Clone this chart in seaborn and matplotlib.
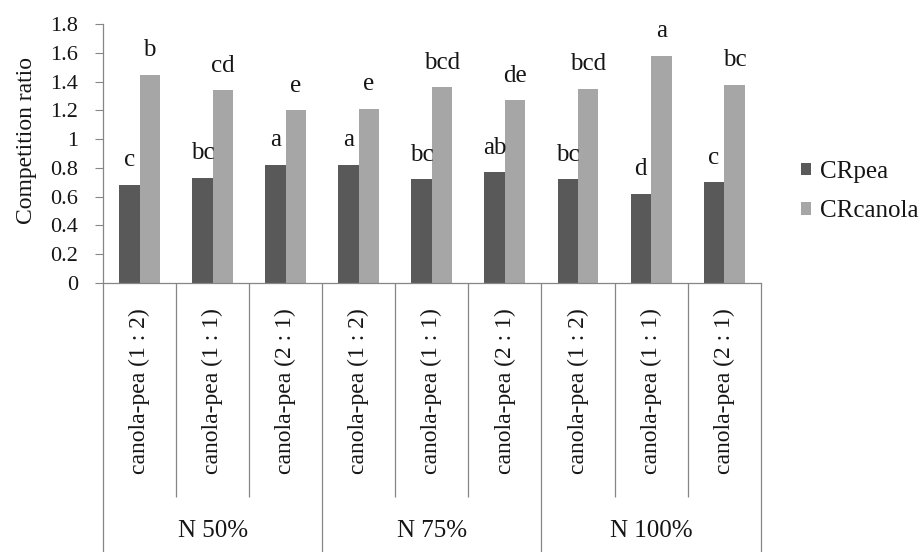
import os
import numpy as np
import pandas as pd
import matplotlib
matplotlib.use("Agg")
import matplotlib.pyplot as plt
from matplotlib.patches import Patch
from matplotlib import font_manager
import seaborn as sns

# ---- data ----
groups = ["N 50%", "N 75%", "N 100%"]
ratios = ["canola-pea (1 : 2)", "canola-pea (1 : 1)", "canola-pea (2 : 1)"]
series = ["CRpea", "CRcanola"]
cr_pea = [0.68, 0.73, 0.82, 0.82, 0.72, 0.77, 0.72, 0.62, 0.70]
cr_canola = [1.45, 1.34, 1.20, 1.21, 1.36, 1.27, 1.35, 1.58, 1.38]
letters_pea = ["c", "bc", "a", "a", "bc", "ab", "bc", "d", "c"]
letters_canola = ["b", "cd", "e", "e", "bcd", "de", "bcd", "a", "bc"]
y_ticks = [0, 0.2, 0.4, 0.6, 0.8, 1, 1.2, 1.4, 1.6, 1.8]
y_label = "Competition ratio"

keys = [f"{g}|{r}" for g in groups for r in ratios]
df = pd.DataFrame({
    "key": keys * 2,
    "series": [series[0]] * len(keys) + [series[1]] * len(keys),
    "value": cr_pea + cr_canola,
})

colors = ["#595959", "#a6a6a6"]
text_color = "#151515"
line_color = "#868686"

sns.set_style("white")

# locate a Times-like serif font file (Liberation Serif)
cands = [f for f in font_manager.findSystemFonts()
         if "serif" in os.path.basename(f).lower()
         and "sans" not in os.path.basename(f).lower()]
pick = None
for f in sorted(cands):
    if "LiberationSerif-Regular" in os.path.basename(f):
        pick = f
if pick is None:
    for f in sorted(cands):
        b = os.path.basename(f)
        if "Regular" in b or b.lower().endswith("serif.ttf"):
            pick = f
            break
serif_name = "DejaVu Serif"
if pick:
    font_manager.fontManager.addfont(pick)
    serif_name = font_manager.FontProperties(fname=pick).get_name()
plt.rcParams["font.family"] = [serif_name, "DejaVu Serif"]

fig = plt.figure(figsize=(9.22, 5.52), dpi=100)
ax = fig.add_axes([103 / 922, 1 - 282.7 / 552, 657.7 / 922, 258.4 / 552])

sns.barplot(data=df, x="key", y="value", hue="series", order=keys,
            hue_order=series, palette=colors, width=0.56, saturation=1,
            linewidth=0, legend=False, ax=ax)

ax.set_xlim(-0.5, len(keys) - 0.5)
ax.set_ylim(0, 1.8)
ax.set_yticks(y_ticks)
ax.set_yticklabels([f"{v:g}" for v in y_ticks])
ax.tick_params(axis="y", which="both", left=True, length=6, width=0.8,
               color=line_color, pad=12, labelsize=16, labelcolor=text_color)
ax.tick_params(axis="x", bottom=False, labelbottom=False)
ax.set_xlabel("")
ax.set_ylabel(y_label, fontsize=17, color=text_color)
ax.yaxis.set_label_coords(-0.100, 0.552)

for side in ["top", "right"]:
    ax.spines[side].set_visible(False)
for side in ["left", "bottom"]:
    ax.spines[side].set_color(line_color)
    ax.spines[side].set_linewidth(0.9)

# significance letters above bars
for cont, lets in zip(ax.containers, [letters_pea, letters_canola]):
    for bar, lt in zip(cont.patches, lets):
        cx = bar.get_x() + bar.get_width() / 2
        ax.text(cx, bar.get_height() + 0.13, lt, ha="center", va="baseline",
                fontsize=18, color=text_color)

# multi-level category axis
trans = ax.get_xaxis_transform()
n = len(keys)
for i in range(n + 1):
    xb = i - 0.5
    outer = (i % len(ratios) == 0)
    y_end = -1.2 if outer else -0.829
    ax.plot([xb, xb], [0, y_end], transform=trans, color=line_color,
            lw=0.9, clip_on=False, solid_capstyle="butt")

for i, k in enumerate(keys):
    ax.text(i, -0.421, k.split("|")[1], rotation=90, ha="center", va="center",
            transform=trans, fontsize=17, color=text_color)

for gi, g in enumerate(groups):
    cx = gi * len(ratios) + (len(ratios) - 1) / 2
    ax.text(cx, -0.962, g, ha="center", va="center", transform=trans,
            fontsize=18, color=text_color)

# legend
handles = [Patch(facecolor=c, edgecolor="none", label=s) for c, s in zip(colors, series)]
leg = ax.legend(handles=handles, loc="center left",
                bbox_to_anchor=(801 / 922, 1 - 191.5 / 552),
                bbox_transform=fig.transFigure, frameon=False,
                borderpad=0, borderaxespad=0, handlelength=0.4,
                handleheight=0.4, handletextpad=0.35, labelspacing=0.7,
                fontsize=18)
for t in leg.get_texts():
    t.set_color(text_color)

fig.savefig("out.png", dpi=100)
